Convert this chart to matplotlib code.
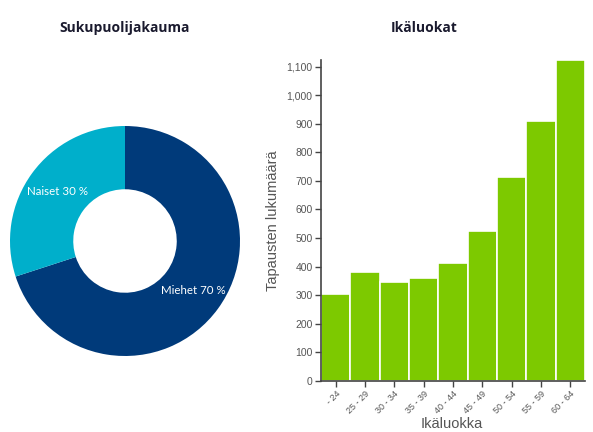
import numpy as np
import matplotlib.pyplot as plt
from matplotlib.ticker import FuncFormatter

# Data
gender_labels = ['Miehet', 'Naiset']
gender_share = [70, 30]
gender_colors = ['#003a7a', '#00afcb']

age_groups = ['- 24', '25 - 29', '30 - 34', '35 - 39', '40 - 44',
              '45 - 49', '50 - 54', '55 - 59', '60 - 64']
age_counts = [305, 382, 347, 361, 414, 525, 715, 909, 1123]

W, H = 593, 432
fig = plt.figure(figsize=(W / 100, H / 100), dpi=100)

# Donut chart
cx, cy, r = 125, 241, 115
ax1 = fig.add_axes([(cx - r) / W, 1 - (cy + r) / H, 2 * r / W, 2 * r / H])
labels = [f'{l} {v} %' for l, v in zip(gender_labels, gender_share)]
wedges, texts = ax1.pie(gender_share, colors=gender_colors, startangle=90,
                        counterclock=False, labels=labels, labeldistance=0.73,
                        wedgeprops=dict(width=0.55, edgecolor='none'),
                        textprops=dict(color='white', fontsize=8.3, family='Lato'))
for t in texts:
    t.set_ha('center')
    t.set_va('center')
ax1.set_xlim(-1, 1)
ax1.set_ylim(-1, 1)
ax1.set_aspect('equal')
fig.text(cx / W, 1 - 28 / H, 'Sukupuolijakauma', ha='center', va='center',
         fontsize=10, fontweight='bold', color='#1a1a2e', family='Open Sans')

# Bar chart
left, right, top, bottom = 321, 585, 60, 381
ax2 = fig.add_axes([left / W, 1 - bottom / H, (right - left) / W, (bottom - top) / H])
x = np.arange(len(age_groups))
ax2.bar(x, age_counts, width=1.0, color='#7dc900', edgecolor='white', linewidth=1.2)
ax2.set_xlim(-0.5, len(age_groups) - 0.5)
ax2.set_ylim(0, max(age_counts))
ax2.set_yticks(np.arange(0, 1101, 100))
ax2.yaxis.set_major_formatter(FuncFormatter(lambda v, p: f'{int(v):,}'))
ax2.set_xticks(x)
ax2.set_xticklabels(age_groups, rotation=45, ha='right', rotation_mode='anchor')
for s in ['top', 'right']:
    ax2.spines[s].set_visible(False)
for s in ['left', 'bottom']:
    ax2.spines[s].set_color('#444444')
    ax2.spines[s].set_linewidth(1.2)
ax2.tick_params(axis='both', colors='#444444', labelcolor='#555555', length=4, width=1)
ax2.tick_params(axis='y', labelsize=7.5, pad=2)
ax2.tick_params(axis='x', labelsize=6.5, pad=2)
for lab in ax2.get_xticklabels() + ax2.get_yticklabels():
    lab.set_family('Liberation Sans')
ax2.set_ylabel('Tapausten lukumäärä', fontsize=10.5, color='#555555',
               family='Liberation Sans', labelpad=5)
fig.text(452 / W, 1 - 424 / H, 'Ikäluokka', ha='center', va='center',
         fontsize=10.5, color='#555555', family='Liberation Sans')
fig.text(424 / W, 1 - 28 / H, 'Ikäluokat', ha='center', va='center',
         fontsize=10, fontweight='bold', color='#1a1a2e', family='Open Sans')

plt.savefig('out.png', dpi=100)
